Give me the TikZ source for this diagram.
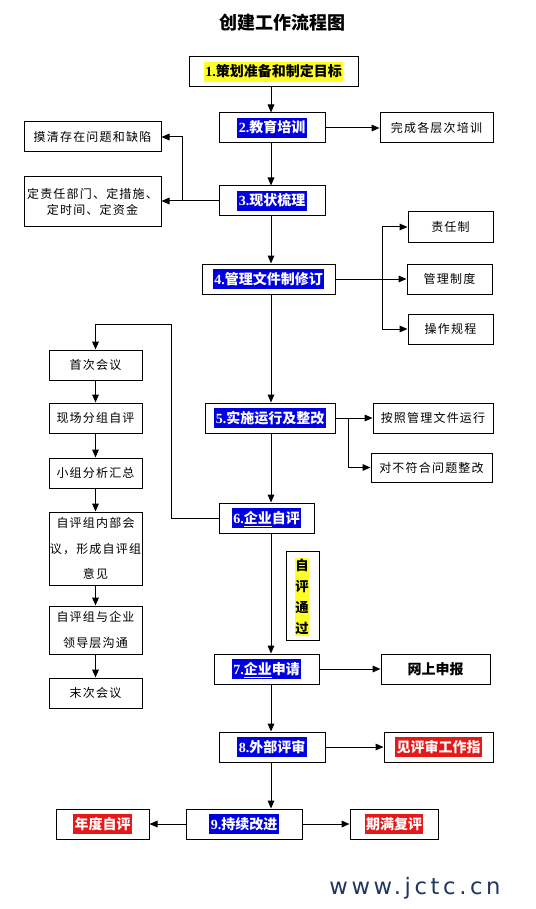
\documentclass[tikz,border=0pt]{standalone}
\usepackage{fontspec}
\setmainfont{Noto Sans CJK SC}
\newfontfamily\cjk{Noto Sans CJK SC}
\newfontfamily\cjksp{Noto Sans CJK SC}[LetterSpace=10]
\newfontfamily\numfont{Liberation Serif}
\newfontfamily\wmfont{DejaVu Sans}[LetterSpace=16]
\usetikzlibrary{arrows.meta}
\definecolor{hlb}{RGB}{0,0,224}
\definecolor{hly}{RGB}{255,255,40}
\definecolor{hlr}{RGB}{230,24,24}
\definecolor{wmc}{RGB}{30,55,95}
\newcommand\hlcol[3]{{\setlength\fboxsep{0pt}\colorbox{#1}{\textcolor{#2}{\hspace{1pt}\rule[-3.5pt]{0pt}{14.5pt}#3\hspace{1pt}}}}}
\newcommand\nm[1]{{\numfont\bfseries #1}}
\tikzset{
  box/.style={draw, line width=0.75pt, inner sep=0pt, align=center},
  wh/.style 2 args={minimum width=#1*0.75pt, minimum height=#2*0.75pt},
  reg/.style={font=\cjksp\fontsize{9pt}{12.5pt}\selectfont},
  bld/.style={font=\cjk\bfseries\fontsize{10.5pt}{13pt}\selectfont},
  arr/.style={-{Triangle[length=6pt,width=5pt]}, line width=0.75pt},
}
\begin{document}
\begin{tikzpicture}[x=0.75pt, y=-0.75pt]
\fill[white] (0,0) rectangle (535,909);
\useasboundingbox (0,0) rectangle (535,909);
\coordinate (sp) at (271,0);

\node[font=\cjk\bfseries\fontsize{13.5pt}{16pt}\selectfont] (title) at (282,23) {创建工作流程图};

% main spine
\node[box, wh={169}{30}, bld] (b1) at (273.5,72) {\hlcol{hly}{black}{\nm{1.}策划准备和制定目标}};
\node[box, wh={106}{30}, bld] (b2) at (272,128) {\hlcol{hlb}{white}{\nm{2.}教育培训}};
\node[box, wh={106}{30}, bld] (b3) at (272,201) {\hlcol{hlb}{white}{\nm{3.}现状梳理}};
\node[box, wh={133}{30}, bld] (b4) at (268.5,279) {\hlcol{hlb}{white}{\nm{4.}管理文件制修订}};
\node[box, wh={130}{30}, bld] (b5) at (270,418) {\hlcol{hlb}{white}{\nm{5.}实施运行及整改}};
\node[box, wh={95}{30}, bld] (b6) at (266.5,518) {\hlcol{hlb}{white}{\nm{6.}\underline{企业}自评}};
\node[box, wh={105}{30}, bld] (b7) at (266.5,669) {\hlcol{hlb}{white}{\nm{7.}\underline{企业}申请}};
\node[box, wh={106}{30}, bld] (b8) at (272,747) {\hlcol{hlb}{white}{\nm{8.}外部评审}};
\node[box, wh={116}{30}, bld] (b9) at (244,824) {\hlcol{hlb}{white}{\nm{9.}持续改进}};

% side boxes
\node[box, wh={113}{30}, reg] (wc) at (436.5,128) {完成各层次培训};
\node[box, wh={137}{30}, reg] (mq) at (92.5,137) {摸清存在问题和缺陷};
\node[box, wh={137}{50}, reg] (dz) at (92.5,202) {定责任部门、定措施、\\定时间、定资金};
\node[box, wh={85}{30}, reg] (zr) at (450.5,227) {责任制};
\node[box, wh={85}{30}, reg] (gl) at (449.5,279) {管理制度};
\node[box, wh={85}{30}, reg] (cz) at (450.5,329) {操作规程};
\node[box, wh={120}{30}, reg] (az) at (433,418) {按照管理文件运行};
\node[box, wh={121}{29}, reg] (db) at (431.5,467.5) {对不符合问题整改};

% left chain
\node[box, wh={93}{30}, reg] (sc) at (95.5,365) {首次会议};
\node[box, wh={93}{30}, reg] (xc) at (95.5,418) {现场分组自评};
\node[box, wh={93}{30}, reg] (xz) at (95.5,473) {小组分析汇总};
\node[box, wh={93}{73}, reg, font=\cjksp\fontsize{9pt}{19pt}\selectfont] (nb) at (95.5,548.5) {自评组内部会\\议，形成自评组\\意见};
\node[box, wh={93}{48}, reg, font=\cjksp\fontsize{9pt}{19pt}\selectfont] (gt) at (95.5,630) {自评组与企业\\领导层沟通};
\node[box, wh={93}{30}, reg] (mc) at (95.5,693) {末次会议};

% pass box
\node[box, wh={33}{89}] (tg) at (302.5,595.5) {};
\node[fill=hly, inner xsep=0.5pt, inner ysep=1pt, text width=10pt, align=center,
      font=\cjk\bfseries\fontsize{10pt}{15.6pt}\selectfont] (tgt) at (302,597) {自\\评\\通\\过};

% results
\node[box, wh={109}{30}, font=\cjk\bfseries\fontsize{10.5pt}{13pt}\selectfont] (ws) at (435.5,669) {网上申报};
\node[box, wh={109}{30}, bld] (jp) at (438.5,747) {\hlcol{hlr}{white}{见评审工作指}};
\node[box, wh={93}{30}, bld] (nd) at (102.5,824) {\hlcol{hlr}{white}{年度自评}};
\node[box, wh={88}{30}, bld] (qm) at (394,824) {\hlcol{hlr}{white}{期满复评}};

% watermark
\node[font=\wmfont\fontsize{17pt}{20pt}\selectfont, text=wmc, inner sep=0pt] (wm) at (415,888) {www.jctc.cn};

% spine arrows
\draw[arr] (b1.south -| sp) -- (b2.north -| sp);
\draw[arr] (b2.south -| sp) -- (b3.north -| sp);
\draw[arr] (b3.south -| sp) -- (b4.north -| sp);
\draw[arr] (b4.south -| sp) -- (b5.north -| sp);
\draw[arr] (b5.south -| sp) -- (b6.north -| sp);
\draw[arr] (b6.south -| sp) -- (b7.north -| sp);
\draw[arr] (b7.south -| sp) -- (b8.north -| sp);
\draw[arr] (b8.south -| sp) -- (b9.north -| sp);

% branches
\draw[arr] (b2.east) -- (b2.east -| wc.west);
\coordinate (j3) at (182,201);
\draw[arr] (b3.west) -- (b3.west -| dz.east);
\draw[arr] (j3) |- (mq.east);
\coordinate (j4) at (382,279);
\draw[arr] (b4.east) -- (gl.west);
\draw[arr] (j4) |- (zr.west);
\draw[arr] (j4) |- (cz.west);
\coordinate (j5) at (348,418);
\draw[arr] (b5.east) -- (az.west);
\draw[arr] (j5) |- (db.west);

% loop to left chain
\coordinate (lt) at (171,324);
\draw[arr] (b6.west) -| (lt) -| (sc.north);
\draw[arr] (sc) -- (xc);
\draw[arr] (xc) -- (xz);
\draw[arr] (xz) -- (nb);
\draw[arr] (nb) -- (gt);
\draw[arr] (gt) -- (mc);

\draw[arr] (b7.east) -- (ws.west);
\draw[arr] (b8.east) -- (jp.west);
\draw[arr] (b9.west) -- (nd.east);
\draw[arr] (b9.east) -- (qm.west);
\end{tikzpicture}
\end{document}
